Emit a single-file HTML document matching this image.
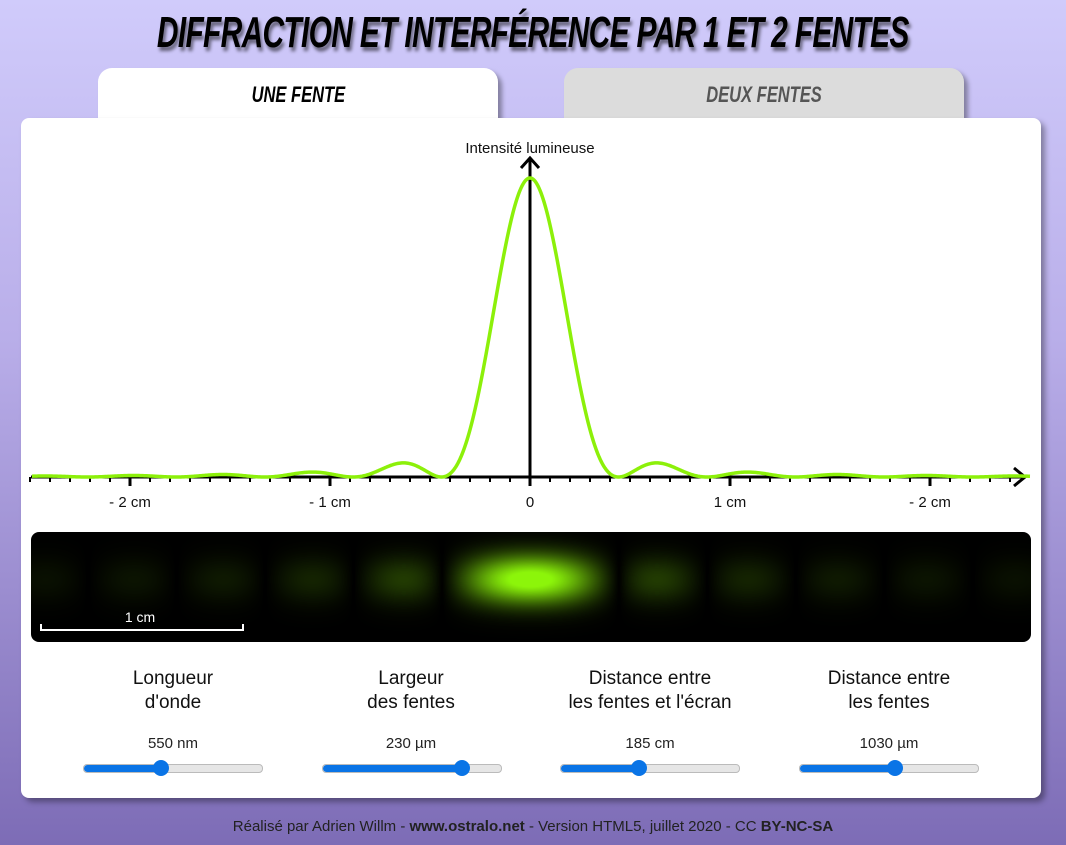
<!DOCTYPE html>
<html><head><meta charset="utf-8">
<style>
body{margin:0;width:1066px;height:845px;overflow:hidden;background:linear-gradient(#d0cbfb,#b9aee9 40%,#7d6cb6);font-family:"Liberation Sans",sans-serif;position:relative}
.title{position:absolute;left:0;width:1066px;top:8px;text-align:center;white-space:nowrap}
.title span{display:inline-block;white-space:nowrap;font-size:44px;font-weight:bold;font-style:italic;letter-spacing:-1px;color:#000;text-shadow:3px 4px 4px rgba(0,0,0,.5);transform:scaleX(.68);margin:0 -200px}
.tab{position:absolute;top:68px;width:400px;height:60px;border-radius:14px 14px 0 0;text-align:center;font-weight:bold;font-style:italic;font-size:22px;line-height:54px;box-shadow:4px 4px 5px rgba(0,0,0,.35)}
.tab span{display:inline-block;transform:scaleX(.75)}
.card{position:absolute;left:21px;top:118px;width:1020px;height:680px;background:#fff;border-radius:8px;box-shadow:4px 4px 6px rgba(0,0,0,.35)}
.ctl{position:absolute;top:667px;width:240px;text-align:center;font-size:19px;color:#111;line-height:24px}
.val{position:absolute;top:735px;width:240px;text-align:center;font-size:15px;color:#222}
.track{position:absolute;top:764px;width:178px;height:7px;border-radius:4px;background:#e6e6e6;border:1px solid #bbb}
.fill{position:absolute;left:0;top:0;height:7px;border-radius:4px;background:#0a74e6}
.thumb{position:absolute;top:-5px;width:16px;height:16px;border-radius:50%;background:#0a74e6;margin-left:-8px}
.foot{position:absolute;top:818px;width:1066px;text-align:center;font-size:15px;color:#222}
</style></head><body>
<div class="title"><span>DIFFRACTION ET INTERFÉRENCE PAR 1 ET 2 FENTES</span></div>
<div class="tab" style="left:98px;background:#fff;"><span>UNE FENTE</span></div>
<div class="tab" style="left:564px;background:#dcdcdc;color:#555;height:50px"><span>DEUX FENTES</span></div>
<div class="card"></div>
<svg id="chart" style="position:absolute;left:0;top:0" width="1066" height="530"></svg>
<canvas id="band" width="1000" height="110" style="position:absolute;left:31px;top:532px;border-radius:8px"></canvas>
<div style="position:absolute;left:40px;top:609px;width:200px;text-align:center;color:#fff;font-size:14px">1 cm</div>
<div style="position:absolute;left:40px;top:624px;width:200px;height:5px;border:2px solid #fff;border-top:none"></div>

<div class="ctl" style="left:53px">Longueur<br>d'onde</div>
<div class="ctl" style="left:291px">Largeur<br>des fentes</div>
<div class="ctl" style="left:530px">Distance entre<br>les fentes et l'écran</div>
<div class="ctl" style="left:769px">Distance entre<br>les fentes</div>
<div class="val" style="left:53px">550 nm</div>
<div class="val" style="left:291px">230 µm</div>
<div class="val" style="left:530px">185 cm</div>
<div class="val" style="left:769px">1030 µm</div>
<div class="track" style="left:83px"><div class="fill" style="width:77px"></div><div class="thumb" style="left:77px"></div></div>
<div class="track" style="left:322px"><div class="fill" style="width:139px"></div><div class="thumb" style="left:139px"></div></div>
<div class="track" style="left:560px"><div class="fill" style="width:78px"></div><div class="thumb" style="left:78px"></div></div>
<div class="track" style="left:799px"><div class="fill" style="width:95px"></div><div class="thumb" style="left:95px"></div></div>
<div class="foot">Réalisé par Adrien Willm - <b>www.ostralo.net</b> - Version HTML5, juillet 2020 - CC <b>BY-NC-SA</b></div>
<script>
const wavelengthNm = [550];
const slitWidthUm = [230];
const screenDistCm = [185];
const tickCm = [-2, -1, 0, 1, 2];
const tickLabels = ['- 2 cm', '- 1 cm', '0', '1 cm', '- 2 cm'];

const X0 = 530, PXCM = 200, YB = 477, YT = 178;
const xs = cm => X0 + cm * PXCM;
const ys = v => YB - v * (YB - YT);
const NS = 'http://www.w3.org/2000/svg';
const svg = document.getElementById('chart');
function mk(t, a) { const e = document.createElementNS(NS, t); for (const k in a) e.setAttribute(k, a[k]); svg.appendChild(e); return e; }
const fringe = wavelengthNm[0] * 1e-9 * (screenDistCm[0] / 100) / (slitWidthUm[0] * 1e-6) * 100; // cm
function I(cm) { const u = Math.PI * cm / fringe; return Math.abs(u) < 1e-9 ? 1 : Math.pow(Math.sin(u) / u, 2); }

for (let k = -25; k <= 24; k++) {
  const cm = k / 10, major = k % 10 === 0;
  const t = mk('line', { x1: xs(cm), x2: xs(cm), y1: YB, y2: YB + (major ? 9 : 5), stroke: '#000', 'stroke-width': major ? 3 : 2 });
  
  
}
tickCm.forEach((c, i) => {
  const t = mk('text', { x: xs(c), y: 507, 'text-anchor': 'middle', 'font-size': 15, fill: '#111', 'font-family': 'Liberation Sans, sans-serif' });
  t.textContent = tickLabels[i];
  
  
});
let ax = mk('line', { x1: 31, x2: 1024, y1: YB, y2: YB, stroke: '#000', 'stroke-width': 3 });


let ah = mk('path', { d: 'M1014 468 L1025 477 L1014 486', fill: 'none', stroke: '#000', 'stroke-width': 3 });


let ay = mk('line', { x1: X0, x2: X0, y1: 159, y2: YB, stroke: '#000', 'stroke-width': 3 });


let ayh = mk('path', { d: 'M521 168 L530 158 L539 168', fill: 'none', stroke: '#000', 'stroke-width': 3 });


let yt = mk('text', { x: 530, y: 153, 'text-anchor': 'middle', 'font-size': 15, fill: '#111', 'font-family': 'Liberation Sans, sans-serif' });
yt.textContent = 'Intensité lumineuse';


let d = '';
for (let px = 32; px <= 1030; px++) { const cm = (px - X0) / PXCM; d += (d ? 'L' : 'M') + px + ' ' + ys(I(cm)).toFixed(2); }
let cv = mk('path', { d, fill: 'none', stroke: '#8cf00a', 'stroke-width': 3.5 });



const c = document.getElementById('band').getContext('2d');
c.fillStyle = '#000'; c.fillRect(0, 0, 1000, 110);
const img = c.getImageData(0, 0, 1000, 110);
for (let x = 0; x < 1000; x++) {
  const cm = (x + 31 - X0) / PXCM;
  const v = Math.pow(I(cm), 0.5);
  for (let y = 0; y < 110; y++) {
    const g = Math.exp(-Math.pow((y - 47) / 24, 2));
    const a = Math.min(1, v * g * 1.1);
    const i = (y * 1000 + x) * 4;
    img.data[i] = 140 * a; img.data[i + 1] = 245 * a; img.data[i + 2] = 10 * a; img.data[i + 3] = 255;
  }
}
c.putImageData(img, 0, 0);
</script>
</body></html>
